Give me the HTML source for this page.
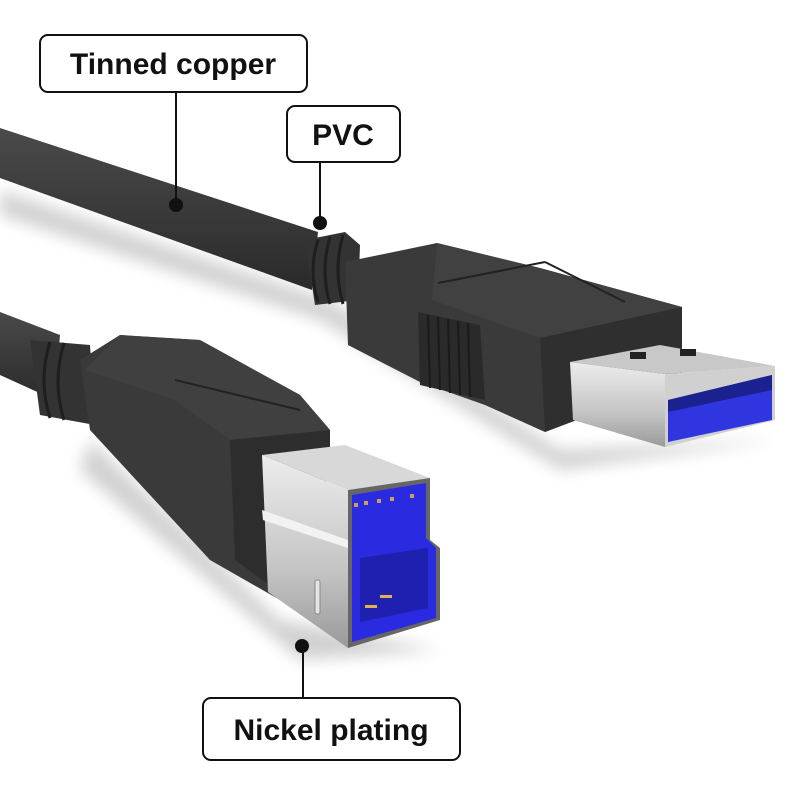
<!DOCTYPE html>
<html><head><meta charset="utf-8"><style>
html,body{margin:0;padding:0;background:#fff;}
svg{display:block}
text{font-family:"Liberation Sans",sans-serif;font-weight:bold;fill:#111}
</style></head><body>
<svg width="800" height="800" viewBox="0 0 800 800" xmlns="http://www.w3.org/2000/svg">
<defs>
<linearGradient id="cab" x1="0" y1="0" x2="0" y2="1">
<stop offset="0" stop-color="#4a4a4a"/><stop offset="0.5" stop-color="#3a3a3a"/><stop offset="1" stop-color="#2a2a2a"/></linearGradient>
<linearGradient id="met" x1="0" y1="0" x2="0" y2="1">
<stop offset="0" stop-color="#ededed"/><stop offset="0.6" stop-color="#c4c4c4"/><stop offset="1" stop-color="#9a9a9a"/></linearGradient>
<filter id="sh" x="-20%" y="-20%" width="140%" height="140%"><feGaussianBlur stdDeviation="8"/></filter>
</defs>
<!-- shadows -->
<g fill="#000" opacity="0.18" filter="url(#sh)">
<path d="M0,190 L330,300 L560,450 L780,440 L560,470 L320,320 L0,215 Z"/>
<path d="M90,440 L280,620 L440,650 L300,660 L80,470 Z"/>
</g>
<!-- upper cable -->
<path d="M0,128 L318,232 L312,290 L0,178 Z" fill="url(#cab)"/>
<!-- strain relief A -->
<path d="M305,240 L345,232 L360,245 L358,300 L315,305 Z" fill="#333"/>
<g stroke="#1e1e1e" stroke-width="3" fill="none"><path d="M318,240 Q308,270 318,302"/><path d="M330,237 Q320,270 330,304"/><path d="M343,235 Q333,270 343,304"/></g>
<!-- USB-A body -->
<path d="M345,262 L437,243 L540,268 L682,307 L682,380 L545,432 L485,405 L420,382 L348,345 Z" fill="#3a3a3a"/>
<path d="M437,243 L540,268 L682,307 L540,338 L432,300 Z" fill="#414141"/>
<path d="M540,338 L682,307 L682,380 L545,432 Z" fill="#2f2f2f"/>
<line x1="438" y1="283" x2="545" y2="262" stroke="#222" stroke-width="2"/>
<line x1="545" y1="262" x2="625" y2="302" stroke="#222" stroke-width="2"/>
<path d="M418,312 L480,325 L485,400 L420,385 Z" fill="#2a2a2a"/>
<g stroke="#1a1a1a" stroke-width="2"><line x1="428" y1="315" x2="430" y2="388"/><line x1="438" y1="317" x2="440" y2="390"/><line x1="448" y1="319" x2="450" y2="393"/><line x1="458" y1="321" x2="460" y2="395"/><line x1="468" y1="323" x2="470" y2="397"/></g>
<!-- USB-A metal -->
<path d="M570,362 L660,345 L775,366 L665,374 Z" fill="#c8c8c8"/>
<path d="M570,362 L665,374 L665,447 L573,420 Z" fill="url(#met)"/>
<path d="M665,374 L775,366 L775,420 L665,447 Z" fill="#d0d0d0"/>
<path d="M668,400 L772,375 L772,420 L668,442 Z" fill="#2f36e0"/>
<path d="M668,400 L772,375 L772,390 L668,412 Z" fill="#1c2190"/>
<rect x="630" y="352" width="16" height="7" fill="#222"/><rect x="680" y="349" width="16" height="7" fill="#222"/>
<!-- lower cable -->
<path d="M0,312 L60,335 L55,400 L0,375 Z" fill="url(#cab)"/>
<path d="M30,340 L90,345 L95,425 L40,415 Z" fill="#333"/>
<g stroke="#1e1e1e" stroke-width="3" fill="none"><path d="M50,342 Q38,380 50,418"/><path d="M64,343 Q52,382 64,420"/></g>
<!-- USB-B body -->
<path d="M80,360 L120,335 L200,340 L300,395 L330,430 L325,470 L280,600 L210,560 L90,430 Z" fill="#3a3a3a"/>
<path d="M120,335 L200,340 L300,395 L330,430 L230,440 L175,400 L85,370 Z" fill="#404040"/>
<path d="M230,440 L330,430 L330,470 L290,600 L235,560 Z" fill="#2d2d2d"/>
<line x1="175" y1="380" x2="300" y2="410" stroke="#222" stroke-width="2"/>
<!-- USB-B metal -->
<path d="M262,455 L345,445 L430,478 L348,490 Z" fill="#d8d8d8"/>
<path d="M262,455 L348,490 L348,648 L268,592 Z" fill="url(#met)"/>
<path d="M262,510 L348,540 L348,548 L263,520 Z" fill="#f2f2f2"/>
<path d="M348,490 L430,478 L430,540 L440,548 L440,620 L348,648 Z" fill="#666"/>
<path d="M352,495 L426,483 L426,538 L436,548 L436,618 L352,642 Z" fill="#2a2ae0"/>
<path d="M360,558 L428,548 L428,608 L360,622 Z" fill="#1f1fb0"/>
<g fill="#c9a25a"><rect x="354" y="503" width="4" height="4"/><rect x="364" y="501" width="4" height="4"/><rect x="377" y="499" width="4" height="4"/><rect x="390" y="497" width="4" height="4"/><rect x="410" y="494" width="4" height="4"/></g>
<rect x="380" y="595" width="12" height="3" fill="#e0b050"/><rect x="365" y="605" width="12" height="3" fill="#e0b050"/>
<rect x="315" y="580" width="5" height="34" rx="2" fill="#e5e5e5" stroke="#888"/>
<!-- leaders -->
<g stroke="#111" stroke-width="2">
<line x1="176" y1="92" x2="176" y2="204"/>
<line x1="320" y1="162" x2="320" y2="222"/>
<line x1="303" y1="647" x2="303" y2="698"/>
</g>
<g fill="#111"><circle cx="176" cy="205" r="7"/><circle cx="320" cy="223" r="7"/><circle cx="302" cy="646" r="7"/></g>
<!-- labels -->
<rect x="40" y="35" width="267" height="57" rx="8" fill="#fff" stroke="#111" stroke-width="2"/>
<text x="173" y="74" font-size="30" text-anchor="middle">Tinned copper</text>
<rect x="287" y="106" width="113" height="56" rx="8" fill="#fff" stroke="#111" stroke-width="2"/>
<text x="343" y="145" font-size="30" text-anchor="middle">PVC</text>
<rect x="203" y="698" width="257" height="62" rx="8" fill="#fff" stroke="#111" stroke-width="2"/>
<text x="331" y="740" font-size="30" text-anchor="middle">Nickel plating</text>
</svg>
</body></html>
